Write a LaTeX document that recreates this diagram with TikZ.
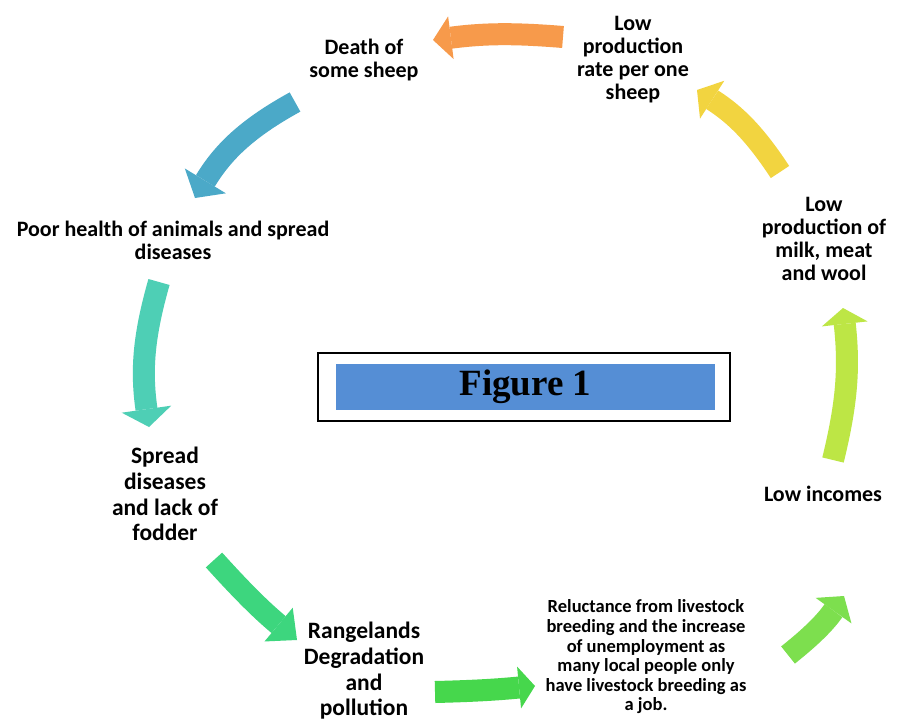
\documentclass[tikz,border=0pt]{standalone}
\usepackage{fontspec}
\setmainfont{Carlito}
\newfontfamily\figfont{Liberation Serif}
\usetikzlibrary{arrows.meta}

\definecolor{cOrange}{HTML}{F79A4B}
\definecolor{cBlue}{HTML}{4BA9C8}
\definecolor{cTeal}{HTML}{4ECFB5}
\definecolor{cGreen}{HTML}{3DD67E}
\definecolor{cBright}{HTML}{46D74C}
\definecolor{cLime}{HTML}{7DDF4E}
\definecolor{cYellowGreen}{HTML}{BDE645}
\definecolor{cYellow}{HTML}{F2D440}
\definecolor{cTitle}{HTML}{558ED5}

\tikzset{
  label/.style={align=center, inner sep=0pt, font=\bfseries\fontsize{22}{23}\selectfont},
  biglabel/.style={align=center, inner sep=0pt, font=\bfseries\fontsize{23.5}{25.7}\selectfont},
  smalllabel/.style={align=center, inner sep=0pt, font=\bfseries\fontsize{18.5}{19.6}\selectfont},
  blockarrow/.style n args={3}{draw=#1, line width=22pt,
    -{Triangle[width=#2, length=#3, line width=0pt]}},
}

\begin{document}
\begin{tikzpicture}[x=1pt,y=-1pt]
\useasboundingbox (0,0) rectangle (901,722);
\fill[white] (0,0) rectangle (901,722);

% stages of the cycle
\node[label] (death)   at (364,60)  {Death of\\some sheep};
\node[label] (lowrate) at (633,60)  {Low\\production\\rate per one\\sheep};
\node[label] (poor)    at (173,240) {Poor health of animals and spread\\diseases};
\node[label] (lowmilk) at (824,239) {Low\\production of\\milk, meat\\and wool};
\node[biglabel] (spread) at (165,494) {Spread\\diseases\\and lack of\\fodder};
\node[label] (lowinc)  at (823,494) {Low incomes};
\node[biglabel] (range) at (364,671) {Rangelands\\Degradation\\and\\pollution};
\node[smalllabel] (reluct) at (646,657) {Reluctance from livestock\\breeding and the increase\\of unemployment as\\many local people only\\have livestock breeding as\\a job.};

% title box in the middle
\node[draw=black, line width=1.6pt, minimum width=412pt, minimum height=68pt, inner sep=0pt] (frame) at (524,387) {};
\node[fill=cTitle, minimum width=379pt, minimum height=46pt, inner sep=0pt,
      font=\figfont\bfseries\fontsize{37}{40}\selectfont] (title) at (525.5,387) {Figure 1};

% arrow end points
\coordinate (a1s) at (563,37);  \coordinate (a1e) at (433,40);
\coordinate (a2s) at (295,102); \coordinate (a2e) at (195,198);
\coordinate (a3s) at (159,282); \coordinate (a3e) at (149,427);
\coordinate (a4s) at (214,560); \coordinate (a4e) at (297,640);
\coordinate (a5s) at (435,692); \coordinate (a5e) at (535,686);
\coordinate (a6s) at (788,655); \coordinate (a6e) at (844,596);
\coordinate (a7s) at (833,460); \coordinate (a7e) at (843,308);
\coordinate (a8s) at (780,172); \coordinate (a8e) at (697,90);

% curved block arrows
\draw[blockarrow={cOrange}{43pt}{18pt}]      (a1s) to[bend right=6]  (a1e);
\draw[blockarrow={cBlue}{48pt}{20pt}]        (a2s) to[bend right=15] (a2e);
\draw[blockarrow={cTeal}{50pt}{18pt}]        (a3s) to[bend right=12] (a3e);
\draw[blockarrow={cGreen}{44pt}{24pt}]       (a4s) to[bend right=4]  (a4e);
\draw[blockarrow={cBright}{42pt}{16pt}]      (a5s) to[bend right=2]  (a5e);
\draw[blockarrow={cLime}{44pt}{18pt}]        (a6s) to[bend right=8]  (a6e);
\draw[blockarrow={cYellowGreen}{46pt}{16pt}] (a7s) to[bend right=10] (a7e);
\draw[blockarrow={cYellow}{45pt}{18pt}]      (a8s) to[bend right=12] (a8e);
\end{tikzpicture}
\end{document}
